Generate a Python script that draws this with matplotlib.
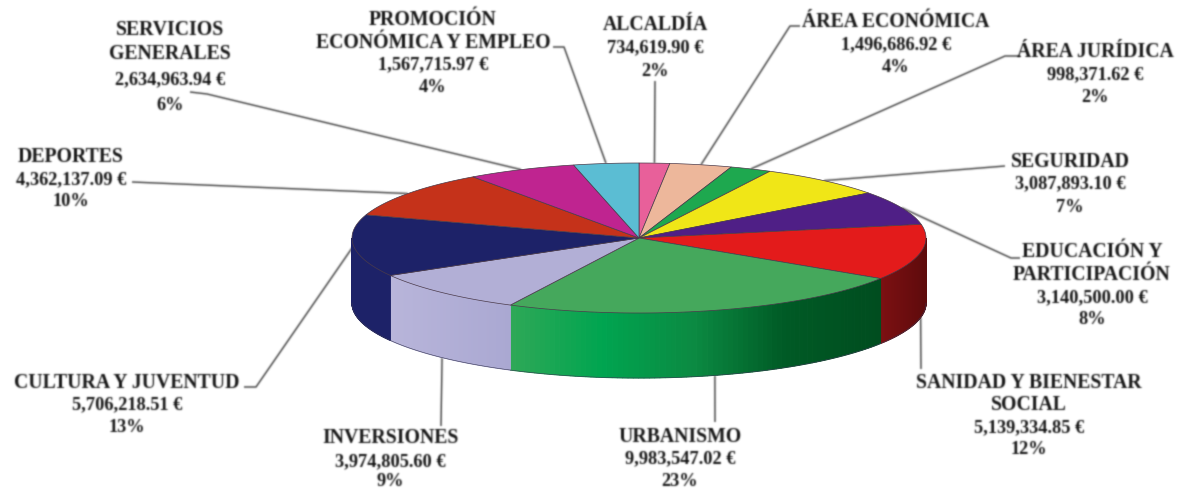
# Pie 3D presupuesto por areas
import numpy as np
import matplotlib
matplotlib.use('Agg')
import matplotlib.pyplot as plt
from matplotlib.colors import to_rgb, LinearSegmentedColormap
from matplotlib.patches import Polygon

# data, clockwise from the top of the pie
names = ['ALCALDÍA', 'ÁREA ECONÓMICA', 'ÁREA JURÍDICA', 'SEGURIDAD',
         'EDUCACIÓN Y\nPARTICIPACIÓN', 'SANIDAD Y BIENESTAR\nSOCIAL', 'URBANISMO',
         'INVERSIONES', 'CULTURA Y JUVENTUD', 'DEPORTES', 'SERVICIOS\nGENERALES',
         'PROMOCIÓN\nECONÓMICA Y EMPLEO']
values = [734619.90, 1496686.92, 998371.62, 3087893.10,
          3140500.00, 5139334.85, 9983547.02,
          3974805.60, 5706218.51, 4362137.09, 2634963.94,
          1567715.97]
percents = ['2%', '4%', '2%', '7%', '8%', '12%', '23%', '9%', '13%', '10%', '6%', '4%']

top_colors = ['#E8609A', '#EDB79B', '#1EA84F', '#F0E617', '#4F1F86', '#E31B1B',
              '#45A85C', '#B2AFD6', '#1D2268', '#C5321A', '#BF2490', '#5BBDD3']
# side wall colours, left to right on the picture
side_colors = {5: ['#7d1012', '#5e0b0c'],
               6: ['#30a857', '#00a550', '#0b8a42', '#005a25', '#004d1f'],
               7: ['#b8b5da', '#aaa8d2'],
               8: ['#1d2268', '#1d2268']}

# label centre x, y of each line
label_x = [655, 896, 1095, 1070, 1092, 1029, 680, 390, 127, 71, 170, 433]
label_y = [[25, 48, 71], [22, 45, 68], [52, 75, 98], [162, 184, 207],
           [252, 275, 298, 320], [383, 405, 428, 450], [437, 459, 482],
           [438, 462, 482], [383, 405, 428], [157, 180, 202],
           [30, 54, 80, 106], [20, 43, 65, 87]]

# leader line: points from the label towards the pie, the rim point is added later
leaders = [[(655, 82)], [(800, 27), (790, 27)], [(1020, 57), (1005, 57)], [(1005, 167)],
           [(1020, 259), (1011, 259)], [(921, 370)], [(715, 423)], [(441, 427)],
           [(244, 388), (256, 388)], [(132, 183)], [(190, 93), (207, 95)],
           [(553, 48), (564, 48)]]

cx, cy = 639, 239
rx, ry = 287, 75
depth = 65


def rim(deg, drop=0):
    a = np.radians(deg)
    return cx + rx * np.sin(a), cy - ry * np.cos(a) + drop


def blur(img, dpi):
    # small blur, the reference is a soft scan
    pad = 3
    img = np.pad(img, ((pad, pad), (pad, pad), (0, 0)))
    rgb = img[:, :, :3] * img[:, :, 3:]
    out = np.dstack([rgb, img[:, :, 3]])
    k = np.array([0.03, 0.22, 0.50, 0.22, 0.03])
    for ax_i in (0, 1):
        out = np.apply_along_axis(lambda v: np.convolve(v, k, mode='same'), ax_i, out)
    alpha = np.clip(out[:, :, 3:], 1e-4, 1)
    out[:, :, :3] = np.clip(out[:, :, :3] / alpha, 0, 1)
    return out, -pad, -pad


fig = plt.figure(figsize=(11.8, 4.89), dpi=100, facecolor='white')
ax = fig.add_axes([0, 0, 1, 1])
ax.set_xlim(0, 1180)
ax.set_ylim(489, 0)
ax.axis('off')

total = sum(values)
edges = np.concatenate([[0], np.cumsum(values)]) / total * 360

# side wall, only the front half of the pie shows
for i, c in side_colors.items():
    a0, a1 = max(edges[i], 90), min(edges[i + 1], 270)
    cmap = LinearSegmentedColormap.from_list('s%d' % i, [to_rgb(s) for s in c])
    steps = np.linspace(a0, a1, 80)
    for j in range(len(steps) - 1):
        p0, p1 = rim(steps[j]), rim(steps[j + 1])
        p2, p3 = rim(steps[j + 1], depth), rim(steps[j], depth)
        # colour goes by x position, angles run right to left here
        frac = (rim(a0)[0] - p0[0]) / max(rim(a0)[0] - rim(a1)[0], 1)
        col = cmap(1 - frac)
        ax.add_patch(Polygon([p0, p1, p2, p3], facecolor=col, edgecolor=col, lw=0.8, zorder=3))
    # outline at the bottom of the wall
    low = [rim(a, depth) for a in steps]
    ax.plot(*zip(*low), color='#3a3a55', lw=0.4, zorder=4)

# top face
for i, c in enumerate(top_colors):
    arc = [rim(a) for a in np.linspace(edges[i], edges[i + 1], 60)]
    ax.add_patch(Polygon([(cx, cy)] + arc, facecolor=c, edgecolor='#4a3a4a', lw=0.5, zorder=5))

# leader lines and labels
for i, name in enumerate(names):
    mid = (edges[i] + edges[i + 1]) / 2
    drop = depth if 90 < mid < 250 else 0
    pts = leaders[i] + [rim(mid, drop)]
    ln, = ax.plot(*zip(*pts), color='#333333', lw=1.0, zorder=2, solid_capstyle='butt')
    ln.set_agg_filter(blur)

    head = name.split('\n')
    lines = head + ['{:,.2f} €'.format(values[i]), percents[i]]
    for n, (y, s) in enumerate(zip(label_y[i], lines)):
        size = 14.2 if n < len(head) else 13.2
        t = ax.text(label_x[i], y, s, ha='center', va='center', family='Liberation Serif',
                    weight='bold', fontsize=size, color='#141414', zorder=6)
        t.set_agg_filter(blur)

fig.savefig('out.png', dpi=100)
